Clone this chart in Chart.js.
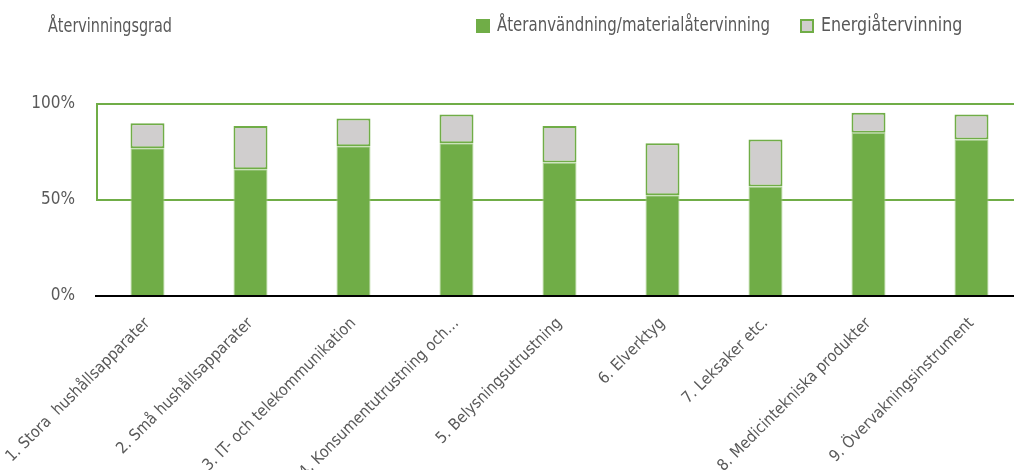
<!DOCTYPE html>
<html>
<head>
<meta charset="utf-8">
<script src="https://cdn.jsdelivr.net/npm/chart.js@4.4.1/dist/chart.umd.min.js"></script>
<style>
  html, body { margin: 0; padding: 0; background: #fff; overflow: hidden; }
  #wrap { position: relative; width: 1030px; height: 470px; }
</style>
</head>
<body>
<div id="wrap"><canvas id="c" width="1030" height="470"></canvas></div>
<script>
const categories = [
  "1. Stora  hushållsapparater",
  "2. Små hushållsapparater",
  "3. IT- och telekommunikation",
  "4. Konsumentutrustning och…",
  "5. Belysningsutrustning",
  "6. Elverktyg",
  "7. Leksaker etc.",
  "8. Medicintekniska produkter",
  "9. Övervakningsinstrument"
];
const reuseMaterial = [77, 66, 78, 79.5, 69.5, 52.5, 57, 85, 81.5];
const energyRecovery = [13, 22.5, 14.5, 15, 19, 27, 24.5, 10.5, 13];
const seriesNames = ["Återanvändning/materialåtervinning", "Energiåtervinning"];
const chartTitle = "Återvinningsgrad";
const yTicks = [0, 50, 100];

const FONT = '"DejaVu Sans Condensed", "Liberation Sans Narrow", sans-serif';
const GREEN = '#70AD47';
const GRAY = '#D0CECE';
const TEXT = '#595959';

function drawScaled(ctx, text, x, y, size, sx) {
  ctx.font = size + 'px ' + FONT;
  ctx.save();
  ctx.translate(x, y);
  ctx.scale(sx, 1);
  ctx.fillText(text, 0, 0);
  ctx.restore();
}
function scaleFor(ctx, text, size, targetW) {
  ctx.font = size + 'px ' + FONT;
  return targetW / ctx.measureText(text).width;
}

const decor = {
  id: 'decor',
  afterDraw(chart) {
    const ctx = chart.ctx;
    const y = chart.scales.y;
    const left = chart.chartArea.left;
    ctx.save();
    ctx.strokeStyle = GREEN;
    ctx.lineWidth = 2;
    ctx.beginPath();
    ctx.moveTo(left + 1, y.getPixelForValue(100));
    ctx.lineTo(left + 1, y.getPixelForValue(50));
    ctx.stroke();
    ctx.fillStyle = TEXT;
    ctx.textBaseline = 'middle';
    ctx.textAlign = 'left';
    drawScaled(ctx, chartTitle, 48, 27, 19, scaleFor(ctx, chartTitle, 19, 124));
    const sx1 = scaleFor(ctx, seriesNames[0], 20, 273);
    const sx2 = Math.min(scaleFor(ctx, seriesNames[1], 20, 152), sx1 * 1.06);
    ctx.fillStyle = GREEN;
    ctx.fillRect(476, 19, 14, 14);
    ctx.fillStyle = TEXT;
    drawScaled(ctx, seriesNames[0], 497, 26, 20, sx1);
    ctx.fillStyle = GRAY;
    ctx.fillRect(801, 20, 12, 12);
    ctx.strokeStyle = GREEN;
    ctx.lineWidth = 2;
    ctx.strokeRect(801, 20, 12, 12);
    ctx.fillStyle = TEXT;
    drawScaled(ctx, seriesNames[1], 821, 26, 20, sx2);
    ctx.restore();
  }
};

new Chart(document.getElementById('c'), {
  type: 'bar',
  data: {
    labels: categories,
    datasets: [
      {
        label: seriesNames[0],
        data: reuseMaterial,
        backgroundColor: GREEN,
        borderColor: '#A9D18E',
        borderWidth: 1,
        borderSkipped: 'start'
      },
      {
        label: seriesNames[1],
        data: energyRecovery,
        backgroundColor: GRAY,
        borderColor: GREEN,
        borderWidth: 2,
        borderSkipped: false
      }
    ]
  },
  options: {
    responsive: false,
    animation: false,
    events: [],
    layout: { padding: { top: 104, left: 0, right: 7, bottom: 0 } },
    plugins: { legend: { display: false }, title: { display: false }, tooltip: { enabled: false } },
    datasets: { bar: { barPercentage: 1, categoryPercentage: 0.33 } },
    scales: {
      x: {
        stacked: true,
        grid: { display: false, drawTicks: false },
        border: { display: true, color: '#000', width: 2 },
        ticks: {
          color: TEXT,
          font: { family: FONT, size: 16 },
          maxRotation: 45,
          minRotation: 45,
          autoSkip: false,
          padding: 18
        },
        afterFit(s) { s.height = 174; s.paddingLeft = 0; s.paddingRight = 0; }
      },
      y: {
        stacked: true,
        min: 0,
        max: 100,
        afterBuildTicks(s) { s.ticks = yTicks.map(v => ({ value: v })); },
        grid: {
          drawTicks: false,
          color: (c) => c.tick && c.tick.value === 0 ? 'rgba(0,0,0,0)' : GREEN,
          lineWidth: 2
        },
        border: { display: false },
        ticks: {
          color: TEXT,
          font: { family: FONT, size: 17 },
          padding: 21,
          callback: (v) => v + '%'
        },
        afterFit(s) { s.width = 96; s.paddingTop = 0; s.paddingBottom = 0; }
      }
    }
  },
  plugins: [decor]
});
</script>
</body>
</html>
